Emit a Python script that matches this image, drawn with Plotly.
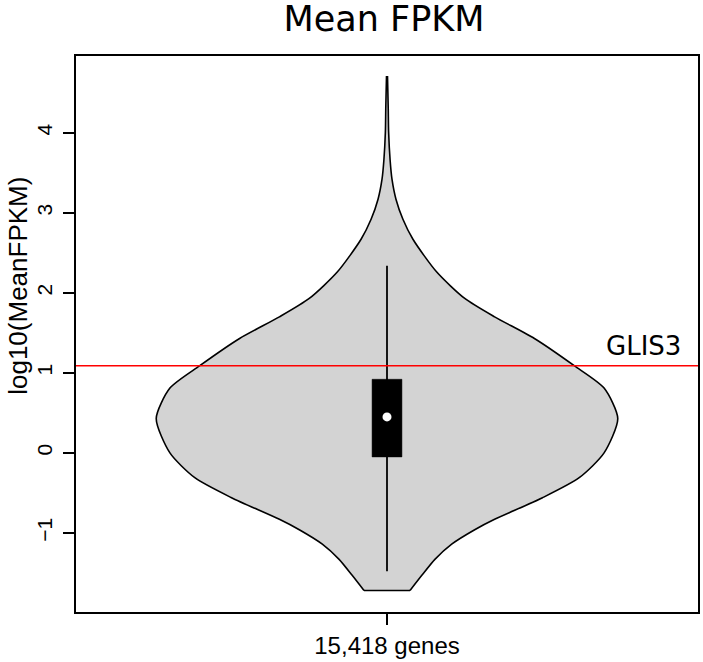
import plotly.graph_objects as go

# ── data ────────────────────────────────────────────────────────────────────
# violin outline: log10(MeanFPKM) level and half-width of the density at it
violin_level = [4.71, 4.30, 4.01, 3.66, 3.42, 3.17, 2.92, 2.67, 2.26, 1.93, 1.70,
                1.43, 1.09, 0.81, 0.43, 0.00, -0.31, -0.56, -0.83, -0.96, -1.14,
                -1.33, -1.53, -1.72]
violin_half = [0.0008, 0.0020, 0.0026, 0.0050, 0.0080, 0.0144, 0.0256, 0.0417,
               0.080, 0.125, 0.173, 0.237, 0.301, 0.349, 0.371, 0.349, 0.309,
               0.250, 0.173, 0.141, 0.104, 0.077, 0.056, 0.037]

# box plot summary
whisker_low, q1, median, q3, whisker_high = -1.48, -0.05, 0.45, 0.92, 2.34

glis3_value = 1.09
glis3_label = "GLIS3"
group_label = "15,418 genes"
y_ticks = [-1, 0, 1, 2, 3, 4]

# ── figure ──────────────────────────────────────────────────────────────────
AXIS_FONT = "Liberation Sans, Arial, sans-serif"
TITLE_FONT = "DejaVu Sans, sans-serif"
center = 1
box_half = 0.024
outline = dict(color="black", width=1.6, shape="spline", smoothing=0.7)

fig = go.Figure()

# violin: left edge, then right edge filled across to it
fig.add_trace(go.Scatter(
    x=[center - h for h in violin_half], y=violin_level,
    mode="lines", line=outline, hoverinfo="skip",
))
fig.add_trace(go.Scatter(
    x=[center + h for h in violin_half], y=violin_level,
    mode="lines", line=outline,
    fill="tonextx", fillcolor="#d3d3d3",
    hoverinfo="skip",
))
# flat cut at the bottom of the violin
fig.add_trace(go.Scatter(
    x=[center - violin_half[-1], center + violin_half[-1]],
    y=[violin_level[-1], violin_level[-1]],
    mode="lines", line=dict(color="black", width=1.6), hoverinfo="skip",
))

# whisker
fig.add_trace(go.Scatter(
    x=[center, center], y=[whisker_low, whisker_high],
    mode="lines",
    line=dict(color="black", width=1.8),
    hoverinfo="skip",
))

# box
fig.add_trace(go.Scatter(
    x=[center - box_half, center + box_half, center + box_half, center - box_half, center - box_half],
    y=[q1, q1, q3, q3, q1],
    mode="lines",
    fill="toself",
    fillcolor="black",
    line=dict(color="black", width=0.5),
    hoverinfo="skip",
))

# median
fig.add_trace(go.Scatter(
    x=[center], y=[median],
    mode="markers",
    marker=dict(color="white", size=9, line=dict(width=0)),
    hoverinfo="skip",
))

# GLIS3 reference line
fig.add_shape(
    type="line", xref="paper", yref="y",
    x0=0, x1=1, y0=glis3_value, y1=glis3_value,
    line=dict(color="red", width=1.5),
)
fig.add_annotation(
    text=glis3_label,
    xref="paper", yref="y",
    x=0.976, y=glis3_value,
    xanchor="right", yanchor="bottom", yshift=3,
    showarrow=False,
    font=dict(family=TITLE_FONT, size=26, color="black"),
)

# y-axis title
fig.add_annotation(
    text="log10(MeanFPKM)",
    xref="paper", yref="paper",
    x=-0.0946, y=0.587,
    xanchor="center", yanchor="middle",
    textangle=-90,
    showarrow=False,
    font=dict(family=AXIS_FONT, size=26, color="black"),
)

fig.update_layout(
    width=703, height=662,
    margin=dict(l=76, r=3, t=56, b=47),
    paper_bgcolor="white",
    plot_bgcolor="white",
    showlegend=False,
    title=dict(
        text="Mean FPKM",
        font=dict(family=TITLE_FONT, size=35, color="black"),
        x=384 / 703, xanchor="center",
        y=1 - 19 / 662, yanchor="middle",
    ),
    xaxis=dict(
        range=[0.5, 1.5],
        tickvals=[center], ticktext=[group_label],
        ticks="outside", ticklen=11, tickwidth=1.5, tickcolor="black",
        tickfont=dict(family=AXIS_FONT, size=24, color="black"),
        showline=True, linecolor="black", linewidth=1.6, mirror=True,
        showgrid=False, zeroline=False,
    ),
    yaxis=dict(
        range=[-1.988, 4.96],
        tickvals=y_ticks,
        tickangle=-90,
        ticks="outside", ticklen=11, tickwidth=1.5, tickcolor="black",
        ticklabelstandoff=3,
        tickfont=dict(family=AXIS_FONT, size=21, color="black"),
        showline=True, linecolor="black", linewidth=1.6, mirror=True,
        showgrid=False, zeroline=False,
    ),
)

# the page body keeps its default 8px margin otherwise
fig.write_html(
    "out.html",
    config={"displayModeBar": False},
    post_script="document.body.style.margin = '0';",
)
